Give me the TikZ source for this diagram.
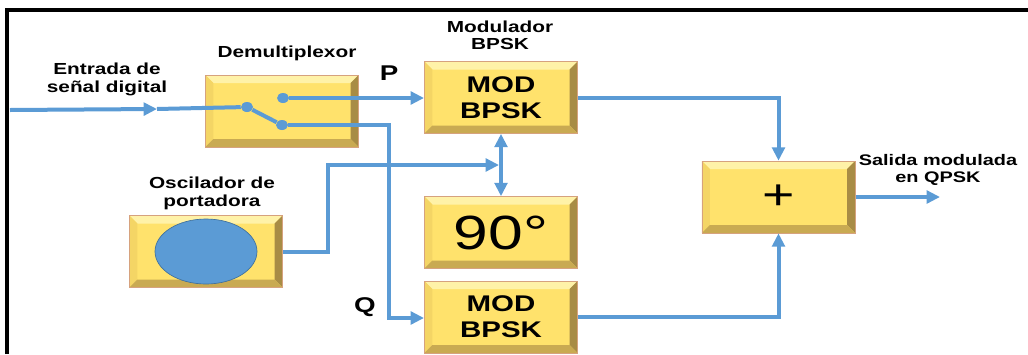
\documentclass[tikz,border=0pt]{standalone}
\usepackage{fontspec}
\setmainfont{Liberation Sans}[FakeStretch=1.3]
\usetikzlibrary{arrows.meta,positioning,shapes.geometric}
\definecolor{wireblue}{HTML}{5B9BD5}
\definecolor{discedge}{HTML}{41719C}
\definecolor{boxface}{HTML}{FFE26C}
\definecolor{bevlight}{HTML}{FFF2A8}
\definecolor{bevleft}{HTML}{F4D565}
\definecolor{bevdark}{HTML}{A88C45}
\definecolor{bevbottom}{HTML}{C9AA52}
\definecolor{boxedge}{HTML}{D6A27E}
\tikzset{
  bevelbox/.style={draw=boxedge,line width=0.5pt,fill=boxface,minimum width=115pt,minimum height=54pt,inner sep=0pt,align=center,
    path picture={
      \fill[bevlight] (path picture bounding box.north west) -- (path picture bounding box.north east)
        -- ([shift={(-6pt,-6pt)}]path picture bounding box.north east) -- ([shift={(6pt,-6pt)}]path picture bounding box.north west) -- cycle;
      \fill[bevleft] (path picture bounding box.north west) -- ([shift={(6pt,-6pt)}]path picture bounding box.north west)
        -- ([shift={(6pt,6pt)}]path picture bounding box.south west) -- (path picture bounding box.south west) -- cycle;
      \fill[bevdark] (path picture bounding box.north east) -- (path picture bounding box.south east)
        -- ([shift={(-6pt,6pt)}]path picture bounding box.south east) -- ([shift={(-6pt,-6pt)}]path picture bounding box.north east) -- cycle;
      \fill[bevbottom] (path picture bounding box.south west) -- (path picture bounding box.south east)
        -- ([shift={(-6pt,6pt)}]path picture bounding box.south east) -- ([shift={(6pt,6pt)}]path picture bounding box.south west) -- cycle;
    }},
  modfont/.style={font=\fontsize{17}{19.5}\selectfont\bfseries},
  caption/.style={align=center,inner sep=0pt,font=\fontsize{12}{13.5}\selectfont\bfseries},
  portlabel/.style={inner sep=0pt,font=\fontsize{16}{16}\selectfont\bfseries},
  contact/.style={ellipse,fill=wireblue,minimum width=9pt,minimum height=7.5pt,inner sep=0pt},
  wire/.style={line width=3pt,wireblue},
  arrow/.style={-{Triangle[length=10pt,width=9.5pt]},line width=3pt,wireblue},
  dblarrow/.style={{Triangle[length=10pt,width=9.5pt]}-{Triangle[length=10pt,width=9.5pt]},line width=3pt,wireblue}
}

\begin{document}
\begin{tikzpicture}[x=0.75pt,y=-0.75pt]
  \useasboundingbox (0,0) rectangle (1028,354);
  \draw[line width=3.5pt] (7,354) -- (7,10) -- (1028,10);

  % blocks
  \node[bevelbox] (demux) at (282,111) {};
  \node[bevelbox,modfont] (modp) at (501,97.5) {MOD\\BPSK};
  \node[bevelbox,font=\fontsize{36}{36}\selectfont] (shift) at (501,232.5) {90°};
  \node[bevelbox,font=\fontsize{32}{32}\selectfont] (sum) at (778.5,197) {+};
  \node[bevelbox,modfont] (modq) at (501,317) {MOD\\BPSK};
  \node[bevelbox] (osc) at (206,251.5) {};
  \node[ellipse,draw=discedge,line width=0.5pt,fill=wireblue,minimum width=76.5pt,minimum height=48.75pt] (disc) at (osc.center) {};

  % labels
  \node[caption] (inlabel) at (107,79) {Entrada de\\señal digital};
  \node[caption] (demuxlabel) at (287,53) {Demultiplexor};
  \node[caption,font=\fontsize{12}{12.5}\selectfont\bfseries] (modlabel) at (500,35) {Modulador\\BPSK};
  \node[caption] (osclabel) at (212,193) {Oscilador de\\portadora};
  \node[caption,font=\fontsize{11.5}{12.8}\selectfont\bfseries] (outlabel) at (938,170) {Salida modulada\\en QPSK};
  \node[portlabel] (plabel) at (389,73) {P};
  \node[portlabel] (qlabel) at (365,307) {Q};

  % switch
  \node[contact] (pivot) at (247,107) {};
  \node[contact] (pdot) at (283,98) {};
  \node[contact] (qdot) at (282,125) {};
  \coordinate (in) at (10,110);
  \coordinate (inmid) at (157,109);
  \coordinate (qbend) at (389,318);
  \coordinate (oscup) at (328,165);
  \coordinate (tap) at (499,165);
  \coordinate (out) at (940,197);

  % connectors
  \draw[arrow] (in) -- (inmid);
  \draw[wire] (inmid) -- (pivot);
  \draw[wire] (pivot) -- (qdot);
  \draw[arrow] (pdot) -- (modp.west |- pdot);
  \draw[arrow] (qdot) -| (qbend) -- (qbend -| modq.west);
  \draw[arrow] (osc.east) -| (oscup) -- (tap);
  \draw[dblarrow] (modp.south) -- (shift.north);
  \draw[arrow] (modp.east) -| (sum.north);
  \draw[arrow] (modq.east) -| (sum.south);
  \draw[arrow] (sum.east) -- (out);
\end{tikzpicture}
\end{document}
